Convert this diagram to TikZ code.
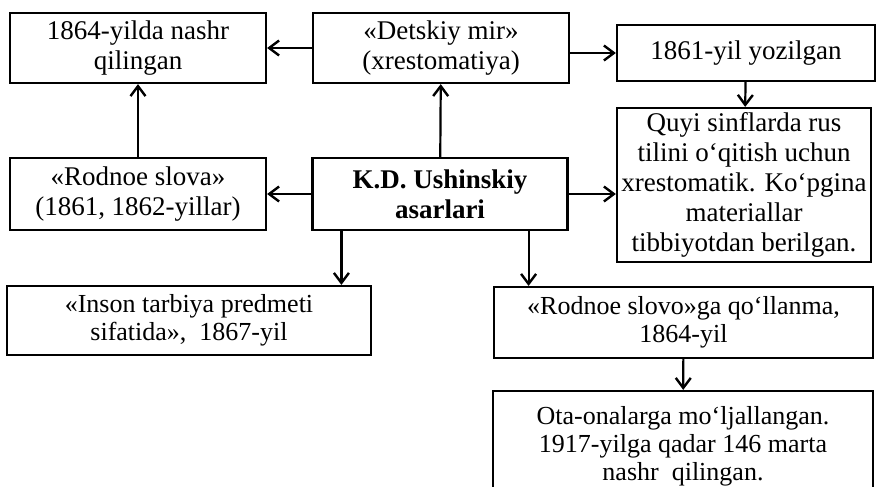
\documentclass[tikz,border=0pt]{standalone}
\usepackage{fontspec}
\setmainfont{Liberation Serif}
\usetikzlibrary{arrows.meta}

\begin{document}
\begin{tikzpicture}[x=1pt,y=-1pt,
  box/.style={draw,line width=2.2pt,align=center,inner sep=0pt,
    font=\fontsize{27}{30}\selectfont},
  lowbox/.style={box,font=\fontsize{26}{28}\selectfont},
  arr/.style={->,line width=2.2pt},
  >={Straight Barb[length=10pt,width=15pt,line width=2.4pt]}]
  \useasboundingbox (0,0) rectangle (876,487);
  % top row
  \node[box,minimum width=256,minimum height=70] (nashr) at (138,48) {1864-yilda nashr\\qilingan};
  \node[box,minimum width=256,minimum height=70] (detskiy) at (441,48) {«Detskiy mir»\\(xrestomatiya)};
  \node[box,minimum width=258,minimum height=56] (yozilgan) at (746,53) {1861-yil yozilgan};
  \node[box,minimum width=254,minimum height=154] (quyi) at (744,185) {Quyi sinflarda rus\\tilini o‘qitish uchun\\xrestomatik. Ko‘pgina\\materiallar\\tibbiyotdan berilgan.};
  % middle row
  \node[box,minimum width=256,minimum height=72] (rodnoe) at (138,194) {«Rodnoe slova»\\(1861, 1862-yillar)};
  \node[box,minimum width=255,minimum height=72,font=\fontsize{27}{30}\selectfont\bfseries] (ushinskiy) at (440,194) {K.D. Ushinskiy\\asarlari};
  % bottom rows
  \node[lowbox,minimum width=364,minimum height=69] (inson) at (189,320.5) {«Inson tarbiya predmeti\\sifatida»,~ 1867-yil};
  \node[lowbox,minimum width=379,minimum height=71] (qollanma) at (683.5,322.5) {«Rodnoe slovo»ga qo‘llanma,\\1864-yil};
  \node[lowbox,minimum width=380,minimum height=110] (ota) at (683,446) {Ota-onalarga mo‘ljallangan.\\1917-yilga qadar 146 marta\\nashr~ qilingan.};

  % arrows
  \draw[arr] (detskiy) -- (nashr);
  \draw[arr] (detskiy.east |- yozilgan) -- (yozilgan.west);
  \draw[arr] (yozilgan) -- (quyi);
  \draw[arr] (rodnoe) -- (nashr);
  \draw[arr] (ushinskiy) -- (detskiy);
  \draw[arr] (ushinskiy) -- (rodnoe);
  \draw[arr] (ushinskiy.east) -- (ushinskiy.east -| quyi.west);
  \draw[arr] ([xshift=30pt]ushinskiy.south west) coordinate (u1) -- (u1 |- inson.north);
  \draw[arr] ([xshift=-40pt]ushinskiy.south east) coordinate (u2) -- (u2 |- qollanma.north);
  \draw[arr] (qollanma) -- (ota);
\end{tikzpicture}
\end{document}
